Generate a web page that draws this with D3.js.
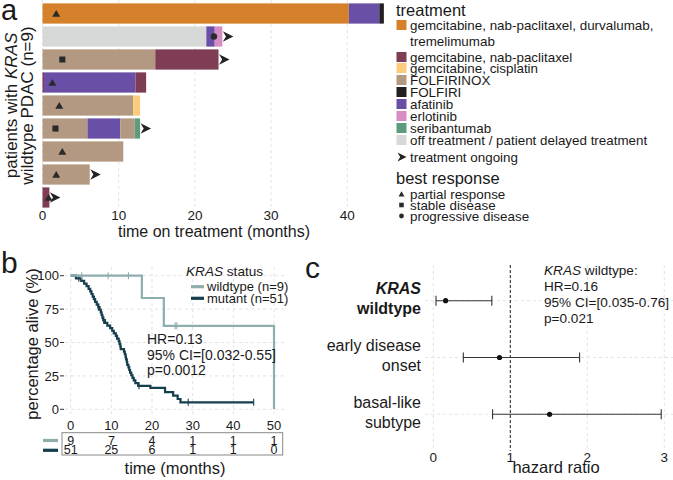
<!DOCTYPE html>
<html><head><meta charset="utf-8">
<script src="https://cdn.jsdelivr.net/npm/d3@7"></script>
<style>
body{margin:0;background:#fff}
svg{font-family:"Liberation Sans",Arial,sans-serif}
</style></head>
<body><svg id="chart" width="673" height="480"></svg>
<script>
// ---------------- DATA ----------------
// Panel a: treatments
const treatmentKeys = ["gndt","gn","gc","folfirinox","folfiri","afatinib","erlotinib","seribantumab","off"];
const treatmentLabels = [["gemcitabine, nab-paclitaxel, durvalumab,","tremelimumab"],["gemcitabine, nab-paclitaxel"],["gemcitabine, cisplatin"],["FOLFIRINOX"],["FOLFIRI"],["afatinib"],["erlotinib"],["seribantumab"],["off treatment / patient delayed treatment"]];
const treatmentColors = ["#D5812B","#7E3C55","#FDCB7C","#B39982","#231F20","#6A4FA6","#D88CC4","#5E9B7D","#D7D8D8"];
const patients = ["P1","P2","P3","P4","P5","P6","P7","P8","P9"];
// segments per patient: [treatment, start month, end month]
const patientSegments = [
  [["gndt",0,40.2],["afatinib",40.2,44.2],["folfiri",44.2,44.8]],
  [["off",0,21.5],["afatinib",21.5,22.6],["erlotinib",22.6,23.6]],
  [["folfirinox",0,14.8],["gn",14.8,23.1]],
  [["gn",0,0.2],["afatinib",0.2,12.2],["gn",12.2,13.6]],
  [["folfirinox",0,11.9],["gc",11.9,12.8]],
  [["folfirinox",0,5.9],["afatinib",5.9,10.2],["folfirinox",10.2,12.1],["seribantumab",12.1,12.8]],
  [["folfirinox",0,10.6]],
  [["folfirinox",0,6.2]],
  [["gn",0,0.9]]
];
const bestResponse = ["partial","progressive","stable","partial","partial","stable","partial","partial","partial"];
const responseTime = [1.8,22.5,2.6,1.3,2.2,1.7,2.6,1.8,0.8];
const ongoing = [false,true,true,false,false,true,false,true,true];
const treatTicks = [0,10,20,30,40];
const responseKeys = ["partial","stable","progressive"];
const responseLabels = ["partial response","stable disease","progressive disease"];

// Panel b: Kaplan-Meier
const wildSteps = [[0,100],[17.5,83.3],[22.9,62.5],[50,0]];
const wildCensor = [2.7,9.2,14.2,25.7,26.1];
const mutSteps = [[0,100],[1.3,98.0],[2.6,96.1],[3.3,94.1],[3.9,92.2],[4.4,90.2],[4.8,88.2],[5.1,86.3],[5.4,84.3],[5.7,82.4],[6.0,80.4],[6.4,78.4],[6.8,76.5],[7.1,74.5],[7.4,72.5],[7.6,70.6],[7.8,68.6],[8.0,66.7],[8.4,64.7],[9.0,62.7],[9.7,60.8],[10.2,58.8],[10.6,56.9],[11.1,54.9],[11.4,52.9],[11.8,51.0],[12.0,49.0],[12.2,47.1],[12.3,45.1],[13.1,43.1],[13.3,41.2],[13.5,39.2],[13.6,37.3],[13.8,35.3],[13.9,33.3],[14.2,31.4],[14.4,29.4],[14.6,27.5],[14.9,25.5],[15.2,23.5],[15.5,21.6],[15.9,19.6],[16.6,17.6],[19.6,16.1],[23.2,12.9],[25.2,10.3],[26.3,7.7],[27.0,5.2],[45,5.2]];
const mutCensor = [2.0,6.8,8.1,16.8,28.9,45];
const kmTicksX = [0,10,20,30,40,50];
const kmTicksY = [0,25,50,75,100];
const riskWild = [9,7,4,1,1,1];
const riskMut = [51,25,6,1,1,0];
const kmGroups = ["wildtype (n=9)","mutant (n=51)"];
const kmColors = ["#8DADAE","#153F4E"];
const kmStats = ["HR=0.13","95% CI=[0.032-0.55]","p=0.0012"];

// Panel c: forest plot
const forestLabels = [["KRAS","wildtype"],["early disease","onset"],["basal-like","subtype"]];
const forestHR = [0.16,0.86,1.51];
const forestLow = [0.035,0.39,0.77];
const forestHigh = [0.76,1.9,2.96];
const forestTicks = [0,1,2,3];
const forestStats = ["HR=0.16","95% CI=[0.035-0.76]","p=0.021"];

// ---------------- DRAW ----------------
const svg = d3.select("#chart");
const ink = "#1a1a1a", gridCol = "#e3e3e3";

// ===== Panel a =====
const ax = d3.scaleLinear().domain([0,45]).range([42.5,385.4]);
const ay = d3.scaleBand().domain(patients).range([2,209]).paddingInner(0.12).paddingOuter(0.06);
const colorOf = d3.scaleOrdinal().domain(treatmentKeys).range(treatmentColors);
const ga = svg.append("g");
ga.selectAll("line.grid").data(treatTicks).join("line")
  .attr("x1",d=>ax(d)).attr("x2",d=>ax(d)).attr("y1",0).attr("y2",209)
  .attr("stroke",gridCol).attr("stroke-dasharray","3,3");
patients.forEach((p,i)=>{
  ga.selectAll(null).data(patientSegments[i]).join("rect")
    .attr("x",d=>ax(d[1])).attr("width",d=>ax(d[2])-ax(d[1]))
    .attr("y",ay(p)).attr("height",ay.bandwidth())
    .attr("fill",d=>colorOf(d[0]));
});
function arrowPath(x,y,s){ // notched arrowhead
  return `M${x},${y-s/2}L${x+s},${y}L${x},${y+s/2}L${x+s*0.3},${y}Z`;
}
function markerPath(type,x,y,s){
  if(type==="partial") return `M${x-s/2},${y+s*0.42}L${x+s/2},${y+s*0.42}L${x},${y-s*0.45}Z`;
  if(type==="stable") return `M${x-s*0.38},${y-s*0.38}h${s*0.76}v${s*0.76}h${-s*0.76}Z`;
  const r=s*0.4; return `M${x-r},${y}a${r},${r} 0 1,0 ${2*r},0a${r},${r} 0 1,0 ${-2*r},0Z`;
}
patients.forEach((p,i)=>{
  const yc = ay(p)+ay.bandwidth()/2;
  const end = d3.max(patientSegments[i],d=>d[2]);
  if(ongoing[i]) ga.append("path").attr("d",arrowPath(ax(end)+0.5,yc,10.5)).attr("fill","#222");
  ga.append("path").attr("d",markerPath(bestResponse[i],ax(responseTime[i]),yc,8)).attr("fill","#2a2a2a");
});
ga.selectAll("text.tick").data(treatTicks).join("text")
  .attr("x",d=>ax(d)).attr("y",220).attr("text-anchor","middle")
  .attr("font-size",13.5).attr("fill",ink).text(d=>d);
ga.append("text").attr("x",214).attr("y",237).attr("text-anchor","middle")
  .attr("font-size",16).attr("fill",ink).text("time on treatment (months)");
const yt = ga.append("text").attr("transform","translate(17,105.5) rotate(-90)")
  .attr("text-anchor","middle").attr("font-size",17).attr("fill",ink);
yt.append("tspan").text("patients with ");
yt.append("tspan").attr("font-style","italic").text("KRAS");
ga.append("text").attr("transform","translate(33,105.5) rotate(-90)")
  .attr("text-anchor","middle").attr("font-size",17).attr("fill",ink).text("wildtype PDAC (n=9)");
svg.append("text").attr("x",1).attr("y",20).attr("font-size",29).attr("fill",ink).text("a");

// legend a
const lg = svg.append("g");
lg.append("text").attr("x",396).attr("y",16).attr("font-size",16.5).attr("fill",ink).text("treatment");
let ly = 25;
treatmentKeys.forEach((k,i)=>{
  lg.append("rect").attr("x",396.5).attr("y",ly-5).attr("width",10).attr("height",10).attr("fill",treatmentColors[i]);
  treatmentLabels[i].forEach((t,j)=>{
    lg.append("text").attr("x",410).attr("y",ly+j*16.5).attr("dy","0.36em").attr("font-size",13.4).attr("fill",ink).text(t);
  });
  ly += (i===0?32:(i===1?11:12));
});
lg.append("path").attr("d",arrowPath(397.5,157,9)).attr("fill","#222");
lg.append("text").attr("x",410).attr("y",157).attr("dy","0.36em").attr("font-size",13.4).attr("fill",ink).text("treatment ongoing");
lg.append("text").attr("x",396).attr("y",184).attr("font-size",16.5).attr("fill",ink).text("best response");
responseKeys.forEach((k,i)=>{
  const yy = 194+i*11;
  lg.append("path").attr("d",markerPath(k,401.5,yy,6)).attr("fill","#2a2a2a");
  lg.append("text").attr("x",410).attr("y",yy).attr("dy","0.36em").attr("font-size",13.4).attr("fill",ink).text(responseLabels[i]);
});

// ===== Panel b =====
const kx = d3.scaleLinear().domain([0,50]).range([70.7,274]);
const ky = d3.scaleLinear().domain([0,100]).range([409.3,275.7]);
const gb = svg.append("g");
gb.selectAll("line.vg").data(kmTicksX).join("line")
  .attr("x1",d=>kx(d)).attr("x2",d=>kx(d)).attr("y1",267).attr("y2",417)
  .attr("stroke",gridCol).attr("stroke-dasharray","3,3");
gb.selectAll("line.hg").data(kmTicksY).join("line")
  .attr("x1",65).attr("x2",284).attr("y1",d=>ky(d)).attr("y2",d=>ky(d))
  .attr("stroke",gridCol).attr("stroke-dasharray","3,3");
const stepLine = d3.line().x(d=>kx(d[0])).y(d=>ky(d[1])).curve(d3.curveStepAfter);
function survAt(steps,t){let s=steps[0][1];for(const st of steps){if(st[0]<=t)s=st[1];}return s;}
[[mutSteps,mutCensor,kmColors[1]],[wildSteps,wildCensor,kmColors[0]]].forEach(([st,cs,col])=>{
  gb.append("path").attr("d",stepLine(st)).attr("fill","none").attr("stroke",col).attr("stroke-width",2.2);
  gb.selectAll(null).data(cs).join("line")
    .attr("x1",d=>kx(d)).attr("x2",d=>kx(d))
    .attr("y1",d=>ky(survAt(st,d))-3.5).attr("y2",d=>ky(survAt(st,d))+3.5)
    .attr("stroke",col).attr("stroke-width",1.1);
});
gb.selectAll("text.yt").data(kmTicksY).join("text")
  .attr("x",59).attr("y",d=>ky(d)).attr("dy","0.36em").attr("text-anchor","end")
  .attr("font-size",13).attr("fill",ink).text(d=>d);
gb.selectAll("line.yt").data(kmTicksY).join("line")
  .attr("x1",60).attr("x2",64).attr("y1",d=>ky(d)).attr("y2",d=>ky(d)).attr("stroke","#333");
gb.selectAll("text.xt").data(kmTicksX).join("text")
  .attr("x",d=>kx(d)).attr("y",430).attr("text-anchor","middle")
  .attr("font-size",13).attr("fill",ink).text(d=>d);
gb.append("text").attr("transform","translate(38,344) rotate(-90)").attr("text-anchor","middle")
  .attr("font-size",16.5).attr("fill",ink).text("percentage alive (%)");
// risk table
gb.append("rect").attr("x",62).attr("y",432.7).attr("width",220.7).attr("height",22.3)
  .attr("fill","none").attr("stroke","#888");
[[riskWild,444.5,kmColors[0]],[riskMut,454.3,kmColors[1]]].forEach(([vals,yy,col])=>{
  gb.selectAll(null).data(vals).join("text")
    .attr("x",(d,i)=>kx(kmTicksX[i])).attr("y",yy).attr("text-anchor","middle")
    .attr("font-size",12.5).attr("fill",ink).text(d=>d);
  gb.append("line").attr("x1",43).attr("x2",58).attr("y1",yy-4).attr("y2",yy-4)
    .attr("stroke",col).attr("stroke-width",3.2);
});
gb.append("text").attr("x",175).attr("y",474).attr("text-anchor","middle")
  .attr("font-size",16.5).attr("fill",ink).text("time (months)");
// km legend
const kl = gb.append("text").attr("x",186).attr("y",276).attr("font-size",13.6).attr("fill",ink);
kl.append("tspan").attr("font-style","italic").text("KRAS");
kl.append("tspan").text(" status");
kmGroups.forEach((g,i)=>{
  const yy = 286.7+i*11.6;
  gb.append("line").attr("x1",191).attr("x2",204).attr("y1",yy).attr("y2",yy).attr("stroke",kmColors[i]).attr("stroke-width",3.2);
  gb.append("text").attr("x",207).attr("y",yy).attr("dy","0.36em").attr("font-size",13).attr("fill",ink).text(g);
});
kmStats.forEach((t,i)=>{
  gb.append("text").attr("x",147).attr("y",339+i*15.6).attr("dy","0.36em").attr("font-size",14).attr("fill",ink).text(t);
});
svg.append("text").attr("x",1).attr("y",273).attr("font-size",30).attr("fill",ink).text("b");

// ===== Panel c =====
const fx = d3.scaleLinear().domain([0,3]).range([433.3,664.3]);
const fy = d3.scalePoint().domain(d3.range(forestHR.length)).range([300.7,414.3]);
const gc = svg.append("g");
gc.selectAll("line.vg").data(forestTicks).join("line")
  .attr("x1",d=>fx(d)).attr("x2",d=>fx(d)).attr("y1",265).attr("y2",449)
  .attr("stroke",gridCol).attr("stroke-dasharray","3,3");
gc.selectAll("line.hg").data(d3.range(forestHR.length)).join("line")
  .attr("x1",425).attr("x2",673).attr("y1",d=>fy(d)).attr("y2",d=>fy(d))
  .attr("stroke",gridCol).attr("stroke-dasharray","3,3");
gc.append("line").attr("x1",fx(1)).attr("x2",fx(1)).attr("y1",265).attr("y2",451)
  .attr("stroke","#222").attr("stroke-dasharray","3,2").attr("stroke-width",1);
forestHR.forEach((hr,i)=>{
  const yy = fy(i);
  gc.append("line").attr("x1",fx(forestLow[i])).attr("x2",fx(forestHigh[i])).attr("y1",yy).attr("y2",yy).attr("stroke","#333").attr("stroke-width",1.1);
  [forestLow[i],forestHigh[i]].forEach(v=>{
    gc.append("line").attr("x1",fx(v)).attr("x2",fx(v)).attr("y1",yy-5).attr("y2",yy+5).attr("stroke","#333").attr("stroke-width",1.1);
  });
  gc.append("circle").attr("cx",fx(hr)).attr("cy",yy).attr("r",2.6).attr("fill","#111");
  forestLabels[i].forEach((t,j)=>{
    const tx = gc.append("text").attr("x",421).attr("y",yy-12.5+j*20).attr("dy","0.36em")
      .attr("text-anchor","end").attr("font-size",16).attr("fill",ink).text(t);
    if(i===0){ tx.attr("font-weight","bold"); if(j===0) tx.attr("font-style","italic"); }
  });
});
gc.selectAll("text.xt").data(forestTicks).join("text")
  .attr("x",d=>fx(d)).attr("y",461.5).attr("text-anchor","middle")
  .attr("font-size",13.5).attr("fill",ink).text(d=>d);
gc.append("text").attr("x",556).attr("y",472.5).attr("text-anchor","middle")
  .attr("font-size",16.5).attr("fill",ink).text("hazard ratio");
const ft = gc.append("text").attr("x",544).attr("y",270).attr("dy","0.36em").attr("font-size",13.6).attr("fill",ink);
ft.append("tspan").attr("font-style","italic").text("KRAS");
ft.append("tspan").text(" wildtype:");
forestStats.forEach((t,i)=>{
  gc.append("text").attr("x",544).attr("y",286+i*16).attr("dy","0.36em").attr("font-size",13.6).attr("fill",ink).text(t);
});
svg.append("text").attr("x",305).attr("y",278).attr("font-size",30).attr("fill",ink).text("c");
</script></body></html>
